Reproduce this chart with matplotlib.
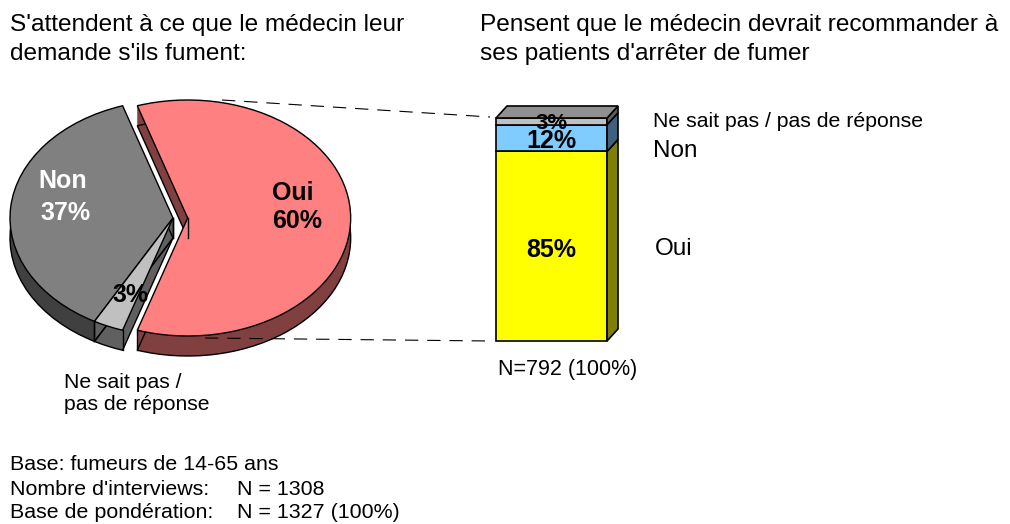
import numpy as np
import matplotlib
matplotlib.use('Agg')
import matplotlib.pyplot as plt
from matplotlib.patches import Polygon
from matplotlib.lines import Line2D

plt.rcParams['font.family'] = ['Liberation Sans', 'DejaVu Sans']

# Data
pie_labels = ['Oui', 'Non', 'Ne sait pas /\npas de réponse']
pie_values = [60, 37, 3]
pie_top_colors = ['#FF8080', '#808080', '#C0C0C0']
pie_side_colors = ['#804040', '#404040', '#606060']

bar_labels = ['Oui', 'Non', 'Ne sait pas / pas de réponse']
bar_values = [85, 12, 3]
bar_front_colors = ['#FFFF00', '#80CCFF', '#C0C0C0']
bar_side_colors = ['#808000', '#406080', '#606060']
bar_top_color = '#909090'

W, H = 1010, 524
fig = plt.figure(figsize=(W / 100, H / 100), dpi=100)


def fx(x):
    return x / W


def fy(y):
    return 1 - y / H


def px(x, y):
    return fx(x), fy(y)


# ---------------- 3D pie ----------------
cx, cy, rx, ry = 173, 218, 163, 118   # pixel centre / radii of the pie top
depth = 20 / ry
explode = [0.09, 0, 0]
start = -108

ax = fig.add_axes([0, fy(380), 360 / W, 300 / H])
layers = np.linspace(-depth, 0, 40)
for k in layers[:-1]:
    ax.pie(pie_values, explode=explode, startangle=start, counterclock=True,
           colors=pie_side_colors, center=(0, k), radius=1,
           wedgeprops=dict(linewidth=0))
# bottom rim outline
ax.pie(pie_values, explode=explode, startangle=start, counterclock=True,
       center=(0, -depth), radius=1,
       wedgeprops=dict(facecolor='none', edgecolor='black', linewidth=1))

# vertical edges on the visible side
bounds = start + np.cumsum([0] + pie_values) * 3.6
mids = (bounds[:-1] + bounds[1:]) / 2
for i in range(len(pie_values)):
    ox = explode[i] * np.cos(np.radians(mids[i]))
    oy = explode[i] * np.sin(np.radians(mids[i]))
    for a in (bounds[i], bounds[i + 1]):
        x0 = ox + np.cos(np.radians(a))
        y0 = oy + np.sin(np.radians(a))
        if y0 < 0:
            ax.plot([x0, x0], [y0, y0 - depth], color='black', lw=1)
    ax.plot([ox, ox], [oy, oy - depth], color='black', lw=1)

# top face
ax.pie(pie_values, explode=explode, startangle=start, counterclock=True,
       colors=pie_top_colors, center=(0, 0), radius=1,
       wedgeprops=dict(edgecolor='black', linewidth=1))

ax.set_aspect('auto')
ax.set_xlim((0 - cx) / rx, (360 - cx) / rx)
ax.set_ylim((cy - 380) / ry, (cy - 80) / ry)
ax.axis('off')

big = dict(fontsize=18, fontweight='bold', ha='center', va='baseline')
fig.text(*px(63, 188), 'Non', color='white', **big)
fig.text(*px(66, 220), f'{pie_values[1]}%', color='white', **big)
fig.text(*px(293, 200), 'Oui', color='black', **big)
fig.text(*px(297, 228), f'{pie_values[0]}%', color='black', **big)
fig.text(*px(131, 302), f'{pie_values[2]}%', color='black', **big)
fig.text(*px(64, 388), 'Ne sait pas /', fontsize=15.2, ha='left', va='baseline')
fig.text(*px(64, 410), 'pas de réponse', fontsize=15.2, ha='left', va='baseline')

# ---------------- 3D stacked bar ----------------
bx = fig.add_axes([fx(470), fy(360), 170 / W, 260 / H])
ux, uy = 111, 2.23          # pixels per data unit
dx, dy = 11 / ux, 12 / uy

bottom = 0
for v, fc, sc in zip(bar_values, bar_front_colors, bar_side_colors):
    bx.bar(0, v, bottom=bottom, width=1, align='edge', color=fc,
           edgecolor='black', linewidth=1.2)
    bx.add_patch(Polygon([(1, bottom), (1 + dx, bottom + dy),
                          (1 + dx, bottom + v + dy), (1, bottom + v)],
                         closed=True, facecolor=sc, edgecolor='black', lw=1.2))
    bottom += v
bx.add_patch(Polygon([(0, bottom), (dx, bottom + dy), (1 + dx, bottom + dy),
                      (1, bottom)], closed=True, facecolor=bar_top_color,
                     edgecolor='black', lw=1.2))
bx.set_xlim((470 - 496) / ux, (640 - 496) / ux)
bx.set_ylim(-(360 - 341) / uy, (341 - 100) / uy)
bx.axis('off')

fig.text(*px(551, 257), f'{bar_values[0]}%', **big)
fig.text(*px(552, 129), f'{bar_values[2]}%', fontsize=16, fontweight='bold',
         ha='center', va='baseline')
fig.text(*px(551, 148), f'{bar_values[1]}%', **big)

fig.text(*px(653, 127), bar_labels[2], fontsize=15.3, ha='left', va='baseline')
fig.text(*px(653, 157), bar_labels[1], fontsize=17.5, ha='left', va='baseline')
fig.text(*px(655, 255), bar_labels[0], fontsize=17.5, ha='left', va='baseline')
fig.text(*px(498, 375), 'N=792 (100%)', fontsize=15.5, ha='left', va='baseline')

# connector lines
for (x0, y0), (x1, y1) in [((222, 100), (490, 117)), ((205, 338), (490, 341))]:
    fig.add_artist(Line2D([fx(x0), fx(x1)], [fy(y0), fy(y1)],
                          color='black', lw=0.8, linestyle=(0, (12, 8))))

# titles
title = dict(fontsize=17.6, ha='left', va='baseline')
fig.text(*px(10, 31), "S'attendent à ce que le médecin leur", **title)
fig.text(*px(10, 60), "demande s'ils fument:", **title)
fig.text(*px(480, 31), 'Pensent que le médecin devrait recommander à', **title)
fig.text(*px(480, 60), "ses patients d'arrêter de fumer", **title)

# base info
base = dict(fontsize=15.4, ha='left', va='baseline')
fig.text(*px(10, 470), 'Base: fumeurs de 14-65 ans', **base)
fig.text(*px(10, 495), "Nombre d'interviews:", **base)
fig.text(*px(237, 495), 'N = 1308', **base)
fig.text(*px(10, 518), 'Base de pondération:', **base)
fig.text(*px(237, 518), 'N = 1327 (100%)', **base)

fig.savefig('out.png', dpi=100)
